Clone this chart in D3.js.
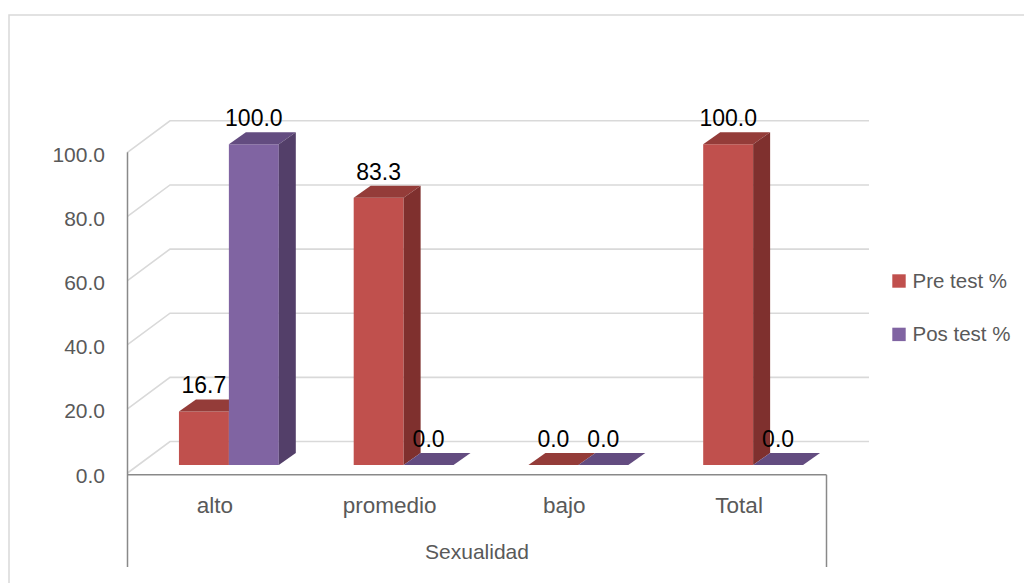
<!DOCTYPE html>
<html>
<head>
<meta charset="utf-8">
<script src="https://cdn.jsdelivr.net/npm/d3@7"></script>
<style>
  html, body { margin: 0; padding: 0; background: #fff; }
  svg { display: block; }
  text { font-family: "Liberation Sans", Arial, sans-serif; }
</style>
</head>
<body>
<svg id="chart" width="1024" height="583"></svg>
<script>
// ---- data ----
const categories = ["alto", "promedio", "bajo", "Total"];
const seriesNames = ["Pre test %", "Pos test %"];
const preTest = [16.7, 83.3, 0.0, 100.0];
const posTest = [100.0, 0.0, 0.0, 0.0];
const yTicks = [0, 20, 40, 60, 80, 100];
const axisTitle = "Sexualidad";

// ---- styling / geometry ----
const colors = {
  front: ["#C0504D", "#8064A2"],
  top:   ["#943C39", "#634C80"],
  side:  ["#7F302E", "#533F69"]
};
const wallDepth = { dx: 42.5, dy: -31.5 };
const barOffset = { dx: 14, dy: -8 };
const barDepth = { dx: 17, dy: -12 };

const svg = d3.select("#chart");

// outer border
svg.append("rect")
  .attr("x", 9).attr("y", 15).attr("width", 1100).attr("height", 700)
  .attr("fill", "none").attr("stroke", "#D9D9D9").attr("stroke-width", 1.5);

const y = d3.scaleLinear().domain([0, 100]).range([473, 152.3]);
const x = d3.scaleBand().domain(categories).range([127.5, 826.5]).paddingInner(0).paddingOuter(0);
const xs = d3.scaleBand().domain(seriesNames).range([0, x.bandwidth() / 3.5 * 2]);

const leftX = x.range()[0], rightX = x.range()[1];

// gridlines (side wall diagonal + back wall)
const grid = svg.append("g");
yTicks.forEach(t => {
  const fy = y(t);
  const bx = leftX + wallDepth.dx, by = fy + wallDepth.dy;
  grid.append("path")
    .attr("d", `M${leftX},${fy}L${bx},${by}L${rightX + wallDepth.dx},${by}`)
    .attr("fill", "none").attr("stroke", "#D9D9D9").attr("stroke-width", 1.6);
});

// vertical axis line
svg.append("line")
  .attr("x1", leftX).attr("x2", leftX).attr("y1", y(100)).attr("y2", 567)
  .attr("stroke", "#898989").attr("stroke-width", 1.5);
// horizontal axis line
svg.append("line")
  .attr("x1", leftX).attr("x2", rightX).attr("y1", 474.8).attr("y2", 474.8)
  .attr("stroke", "#898989").attr("stroke-width", 1.5);
svg.append("line")
  .attr("x1", rightX).attr("x2", rightX).attr("y1", 474.8).attr("y2", 567)
  .attr("stroke", "#898989").attr("stroke-width", 1.5);

// y tick labels
const fmt = d3.format(".1f");
svg.append("g").selectAll("text").data(yTicks).join("text")
  .attr("x", 105).attr("y", d => y(d) + 2)
  .attr("dy", "0.36em")
  .attr("text-anchor", "end")
  .attr("fill", "#595959").attr("font-size", 21)
  .text(d => fmt(d));

// category labels
svg.append("g").selectAll("text").data(categories).join("text")
  .attr("x", d => x(d) + x.bandwidth() / 2).attr("y", 512.5)
  .attr("text-anchor", "middle")
  .attr("fill", "#595959").attr("font-size", 22.5)
  .text(d => d);

svg.append("text")
  .attr("x", (leftX + rightX) / 2).attr("y", 559)
  .attr("text-anchor", "middle")
  .attr("fill", "#595959").attr("font-size", 21)
  .text(axisTitle);

// bars
const seriesData = [preTest, posTest];
const bars = [];
categories.forEach((c, ci) => {
  seriesNames.forEach((s, si) => {
    bars.push({ cat: c, s: s, si: si, v: seriesData[si][ci] });
  });
});

const barG = svg.append("g");
const bw = xs.bandwidth();
bars.forEach(b => {
  const x0 = x(b.cat) + x.bandwidth() / 2 - bw + xs(b.s) + barOffset.dx;
  const x1 = x0 + bw;
  const yb = y(0) + barOffset.dy;
  const yt = y(b.v) + barOffset.dy;
  const g = barG.append("g");
  // front
  g.append("path")
    .attr("d", `M${x0},${yb}L${x0},${yt}L${x1},${yt}L${x1},${yb}Z`)
    .attr("fill", colors.front[b.si]);
  // top
  g.append("path")
    .attr("d", `M${x0},${yt}L${x0 + barDepth.dx},${yt + barDepth.dy}L${x1 + barDepth.dx},${yt + barDepth.dy}L${x1},${yt}Z`)
    .attr("fill", colors.top[b.si]);
  // side
  g.append("path")
    .attr("d", `M${x1},${yb}L${x1},${yt}L${x1 + barDepth.dx},${yt + barDepth.dy}L${x1 + barDepth.dx},${yb + barDepth.dy}Z`)
    .attr("fill", colors.side[b.si]);
  b.lx = (x0 + x1) / 2;
  b.ly = yt + barDepth.dy - 6;
});

// data labels
svg.append("g").selectAll("text").data(bars).join("text")
  .attr("x", d => d.lx).attr("y", d => d.ly)
  .attr("text-anchor", "middle")
  .attr("fill", "#000").attr("font-size", 23)
  .text(d => fmt(d.v));

// legend
const legend = svg.append("g");
seriesNames.forEach((s, i) => {
  const ly = 274.3 + i * 53.4;
  legend.append("rect")
    .attr("x", 892.3).attr("y", ly).attr("width", 13.4).attr("height", 13.4)
    .attr("fill", colors.front[i]);
  legend.append("text")
    .attr("x", 912.5).attr("y", ly + 13.4)
    .attr("fill", "#595959").attr("font-size", 20.5)
    .text(s);
});
</script>
</body>
</html>
